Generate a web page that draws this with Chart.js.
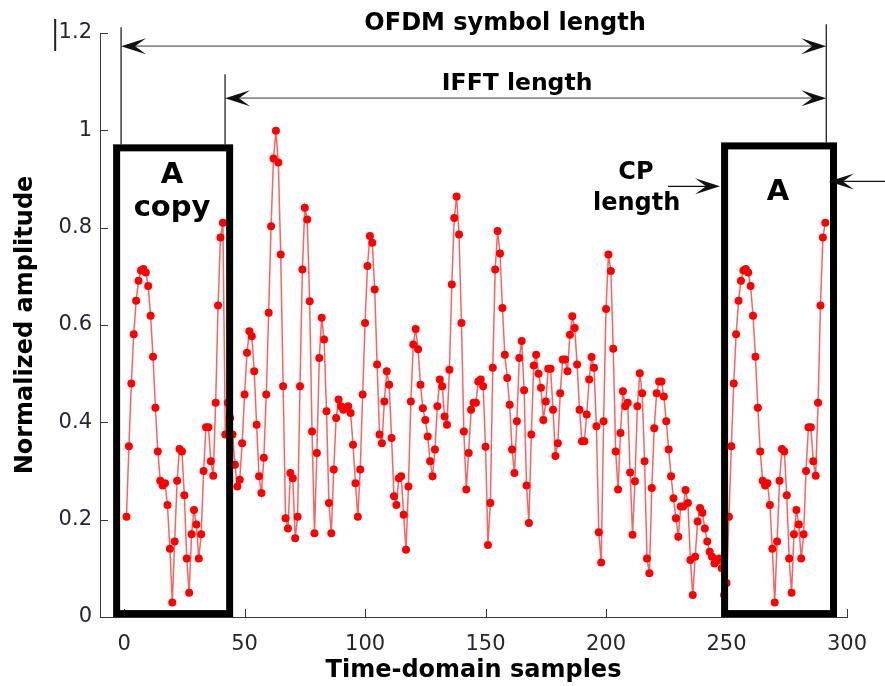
<!DOCTYPE html>
<html>
<head>
<meta charset="utf-8">
<title>OFDM symbol with cyclic prefix</title>
<script src="https://cdn.jsdelivr.net/npm/chart.js@4.4.1/dist/chart.umd.min.js"></script>
<style>
  html, body { margin: 0; padding: 0; background: #fff; }
  #wrap { width: 885px; height: 686px; position: relative; }
</style>
</head>
<body>
<div id="wrap"><canvas id="ofdm"></canvas></div>
<script>
// block "A": last samples of the IFFT output, also copied in front as the CP
const blockA = [0.206, 0.351, 0.48, 0.581, 0.65, 0.691, 0.712, 0.715, 0.708, 0.68,
    0.619, 0.535, 0.43, 0.34, 0.28, 0.27, 0.275, 0.23, 0.14, 0.03,
    0.155, 0.28, 0.345, 0.34, 0.25, 0.12, 0.05, 0.17, 0.22, 0.19,
    0.12, 0.17, 0.3, 0.39, 0.39, 0.32, 0.29, 0.44, 0.64, 0.78, 0.81];

// IFFT output between the prefix and block A (samples 42..250)
const bodySamples = [
    0.375, 0.44, 0.409, 0.375, 0.313, 0.268, 0.282, 0.357, 0.457, 0.543,
    0.587, 0.577, 0.505, 0.395, 0.289, 0.255, 0.327, 0.457, 0.625, 0.803,
    0.942, 0.999, 0.934, 0.745, 0.474, 0.203, 0.182, 0.296, 0.285, 0.162,
    0.206, 0.474, 0.714, 0.841, 0.817, 0.649, 0.381, 0.172, 0.337, 0.532,
    0.615, 0.570, 0.423, 0.234, 0.172, 0.303, 0.409, 0.447, 0.433, 0.426,
    0.43, 0.433, 0.419, 0.354, 0.275, 0.206, 0.303, 0.457, 0.604, 0.721,
    0.783, 0.769, 0.673, 0.519, 0.375, 0.357, 0.443, 0.505, 0.477, 0.368,
    0.248, 0.230, 0.285, 0.289, 0.210, 0.138, 0.268, 0.443, 0.560, 0.592,
    0.550, 0.477, 0.429, 0.405, 0.371, 0.320, 0.289, 0.344, 0.433, 0.488,
    0.474, 0.412, 0.395, 0.508, 0.683, 0.820, 0.864, 0.786, 0.604, 0.381,
    0.262, 0.337, 0.426, 0.44, 0.44, 0.484, 0.488, 0.474, 0.35, 0.148,
    0.234, 0.512, 0.714, 0.793, 0.747, 0.635, 0.539, 0.491, 0.436, 0.344,
    0.296, 0.402, 0.532, 0.567, 0.466, 0.27, 0.193, 0.375, 0.517, 0.539,
    0.50, 0.471, 0.405, 0.443, 0.510, 0.510, 0.426, 0.331, 0.357, 0.46,
    0.529, 0.529, 0.505, 0.580, 0.618, 0.594, 0.519, 0.426, 0.361, 0.361,
    0.416, 0.488, 0.534, 0.512, 0.392, 0.174, 0.112, 0.402, 0.633, 0.745,
    0.711, 0.551, 0.34, 0.262, 0.378, 0.464, 0.433, 0.44, 0.297, 0.169,
    0.279, 0.433, 0.501, 0.46, 0.32, 0.12, 0.09, 0.265, 0.388, 0.46,
    0.484, 0.484, 0.453, 0.402, 0.344, 0.289, 0.244, 0.203, 0.165, 0.227,
    0.227, 0.261, 0.234, 0.117, 0.045, 0.124, 0.196, 0.224, 0.214, 0.182,
    0.155, 0.134, 0.124, 0.110, 0.115, 0.12, 0.10, 0.045, 0.07];

const xTicks = [0, 50, 100, 150, 200, 250, 300];
const yTicks = [0, 0.2, 0.4, 0.6, 0.8, 1, 1.2];

// CP + IFFT body + A
const amplitude = blockA.concat(bodySamples, blockA);
const points = amplitude.map((v, i) => ({ x: i + 1, y: v }));

const tickFont = { family: 'DejaVu Sans', size: 21 };
const titleFont = { family: 'DejaVu Sans', size: 24, weight: 'bold' };
const axisColor = '#3a3a3a';

// annotations, in data units
const boxes = [
    { x0: -3.1, x1: 43.8, y0: 0.007, y1: 0.964 },
    { x0: 249.2, x1: 294.4, y0: 0.007, y1: 0.968 }
];
const guides = [
    { x: -1.25, y0: 0.971, y1: 1.212 },
    { x: 41.9, y0: 0.971, y1: 1.115 },
    { x: 291.4, y0: 0.975, y1: 1.218 }
];
const spans = [
    { x0: -1.25, x1: 291.4, y: 1.173 },
    { x0: 41.9, x1: 291.4, y: 1.066 }
];
const pointers = [
    { from: 225.7, to: 247.3, y: 0.885 },
    { from: 330, to: 292.5, y: 0.895 }
];
const labels = [
    { text: 'OFDM symbol length', x: 158.1, y: 1.206, size: 24 },
    { text: 'IFFT length', x: 163.1, y: 1.0825, size: 23.5 },
    { text: 'A', x: 19.9, y: 0.891, size: 29 },
    { text: 'copy', x: 19.9, y: 0.825, size: 29 },
    { text: 'A', x: 271.4, y: 0.856, size: 29 },
    { text: 'CP', x: 212.4, y: 0.899, size: 24 },
    { text: 'length', x: 212.7, y: 0.836, size: 24 }
];

function arrowHead(ctx, tx, ty, dir) {
    ctx.beginPath();
    ctx.moveTo(tx, ty);
    ctx.lineTo(tx - dir * 25, ty - 8);
    ctx.lineTo(tx - dir * 14, ty);
    ctx.lineTo(tx - dir * 25, ty + 8);
    ctx.closePath();
    ctx.fill();
}

const inwardTicks = {
    id: 'inwardTicks',
    afterDraw(chart) {
        const ctx = chart.ctx;
        const xs = chart.scales.x, ys = chart.scales.y;
        const area = chart.chartArea;
        ctx.save();
        ctx.strokeStyle = axisColor;
        ctx.lineWidth = 1;
        ctx.beginPath();
        xTicks.forEach(v => {
            const p = Math.round(xs.getPixelForValue(v)) + 0.5;
            ctx.moveTo(p, area.bottom);
            ctx.lineTo(p, area.bottom - 8);
        });
        yTicks.forEach(v => {
            const p = Math.round(ys.getPixelForValue(v)) + 0.5;
            ctx.moveTo(area.left, p);
            ctx.lineTo(area.left + 8, p);
        });
        ctx.stroke();
        ctx.restore();
    }
};

const notes = {
    id: 'notes',
    afterDraw(chart) {
        const ctx = chart.ctx;
        const xs = chart.scales.x, ys = chart.scales.y;
        const px = v => xs.getPixelForValue(v);
        const py = v => ys.getPixelForValue(v);
        ctx.save();

        // thick boxes round A and its copy
        ctx.strokeStyle = '#000';
        ctx.lineWidth = 7;
        boxes.forEach(b => {
            ctx.strokeRect(px(b.x0), py(b.y1), px(b.x1) - px(b.x0), py(b.y0) - py(b.y1));
        });

        // vertical guide lines
        ctx.lineWidth = 1.3;
        ctx.strokeStyle = '#222';
        guides.forEach(g => {
            ctx.beginPath();
            ctx.moveTo(px(g.x), py(g.y0));
            ctx.lineTo(px(g.x), py(g.y1));
            ctx.stroke();
        });

        // double arrows for the lengths
        spans.forEach(s => {
            ctx.strokeStyle = '#8c8c8c';
            ctx.lineWidth = 1.8;
            ctx.beginPath();
            ctx.moveTo(px(s.x0) + 14, py(s.y));
            ctx.lineTo(px(s.x1) - 14, py(s.y));
            ctx.stroke();
            ctx.fillStyle = '#111';
            arrowHead(ctx, px(s.x0), py(s.y), -1);
            arrowHead(ctx, px(s.x1), py(s.y), 1);
        });

        // CP length pointers
        pointers.forEach(p => {
            const dir = p.to > p.from ? 1 : -1;
            ctx.strokeStyle = '#111';
            ctx.lineWidth = 1.3;
            ctx.beginPath();
            ctx.moveTo(px(p.from), py(p.y));
            ctx.lineTo(px(p.to) - dir * 14, py(p.y));
            ctx.stroke();
            ctx.fillStyle = '#111';
            arrowHead(ctx, px(p.to), py(p.y), dir);
        });

        // stray tick left of the 1.2 label
        ctx.strokeStyle = '#222';
        ctx.lineWidth = 2;
        ctx.beginPath();
        ctx.moveTo(px(-28.6), py(1.229));
        ctx.lineTo(px(-28.6), py(1.163));
        ctx.stroke();

        ctx.fillStyle = '#000';
        ctx.textAlign = 'center';
        ctx.textBaseline = 'alphabetic';
        labels.forEach(l => {
            ctx.font = 'bold ' + l.size + 'px "DejaVu Sans"';
            ctx.fillText(l.text, px(l.x), py(l.y));
        });
        ctx.restore();
    }
};

new Chart(document.getElementById('ofdm').getContext('2d'), {
    type: 'line',
    data: {
        datasets: [{
            data: points,
            borderColor: 'rgba(255, 30, 30, 0.7)',
            borderWidth: 1.5,
            pointRadius: 4,
            pointHoverRadius: 4,
            pointBorderWidth: 0,
            pointBackgroundColor: '#ff0000',
            tension: 0
        }]
    },
    options: {
        responsive: true,
        maintainAspectRatio: false,
        animation: false,
        layout: { padding: { top: 33, right: 38, left: 0, bottom: 0 } },
        plugins: {
            legend: { display: false },
            tooltip: { enabled: false }
        },
        scales: {
            x: {
                type: 'linear',
                min: -10,
                max: 300,
                afterBuildTicks: s => { s.ticks = xTicks.map(v => ({ value: v })); },
                afterFit: s => { s.height = 69; },
                grid: { display: false, drawTicks: false },
                border: { display: true, color: axisColor, width: 1 },
                ticks: { font: tickFont, color: '#262633', padding: 15, maxRotation: 0, autoSkip: false },
                title: { display: true, text: 'Time-domain samples', font: titleFont, color: '#000', padding: { top: 0, bottom: 1 } }
            },
            y: {
                min: 0,
                max: 1.2,
                afterBuildTicks: s => { s.ticks = yTicks.map(v => ({ value: v })); },
                afterFit: s => { s.width = 100; },
                grid: { display: false, drawTicks: false },
                border: { display: true, color: axisColor, width: 1 },
                ticks: {
                    font: tickFont, color: '#262633', padding: 8,
                    callback: v => String(Math.round(v * 10) / 10)
                },
                title: { display: true, text: 'Normalized amplitude', font: titleFont, color: '#000', padding: { top: 11, bottom: 0 } }
            }
        }
    },
    plugins: [inwardTicks, notes]
});
</script>
</body>
</html>
